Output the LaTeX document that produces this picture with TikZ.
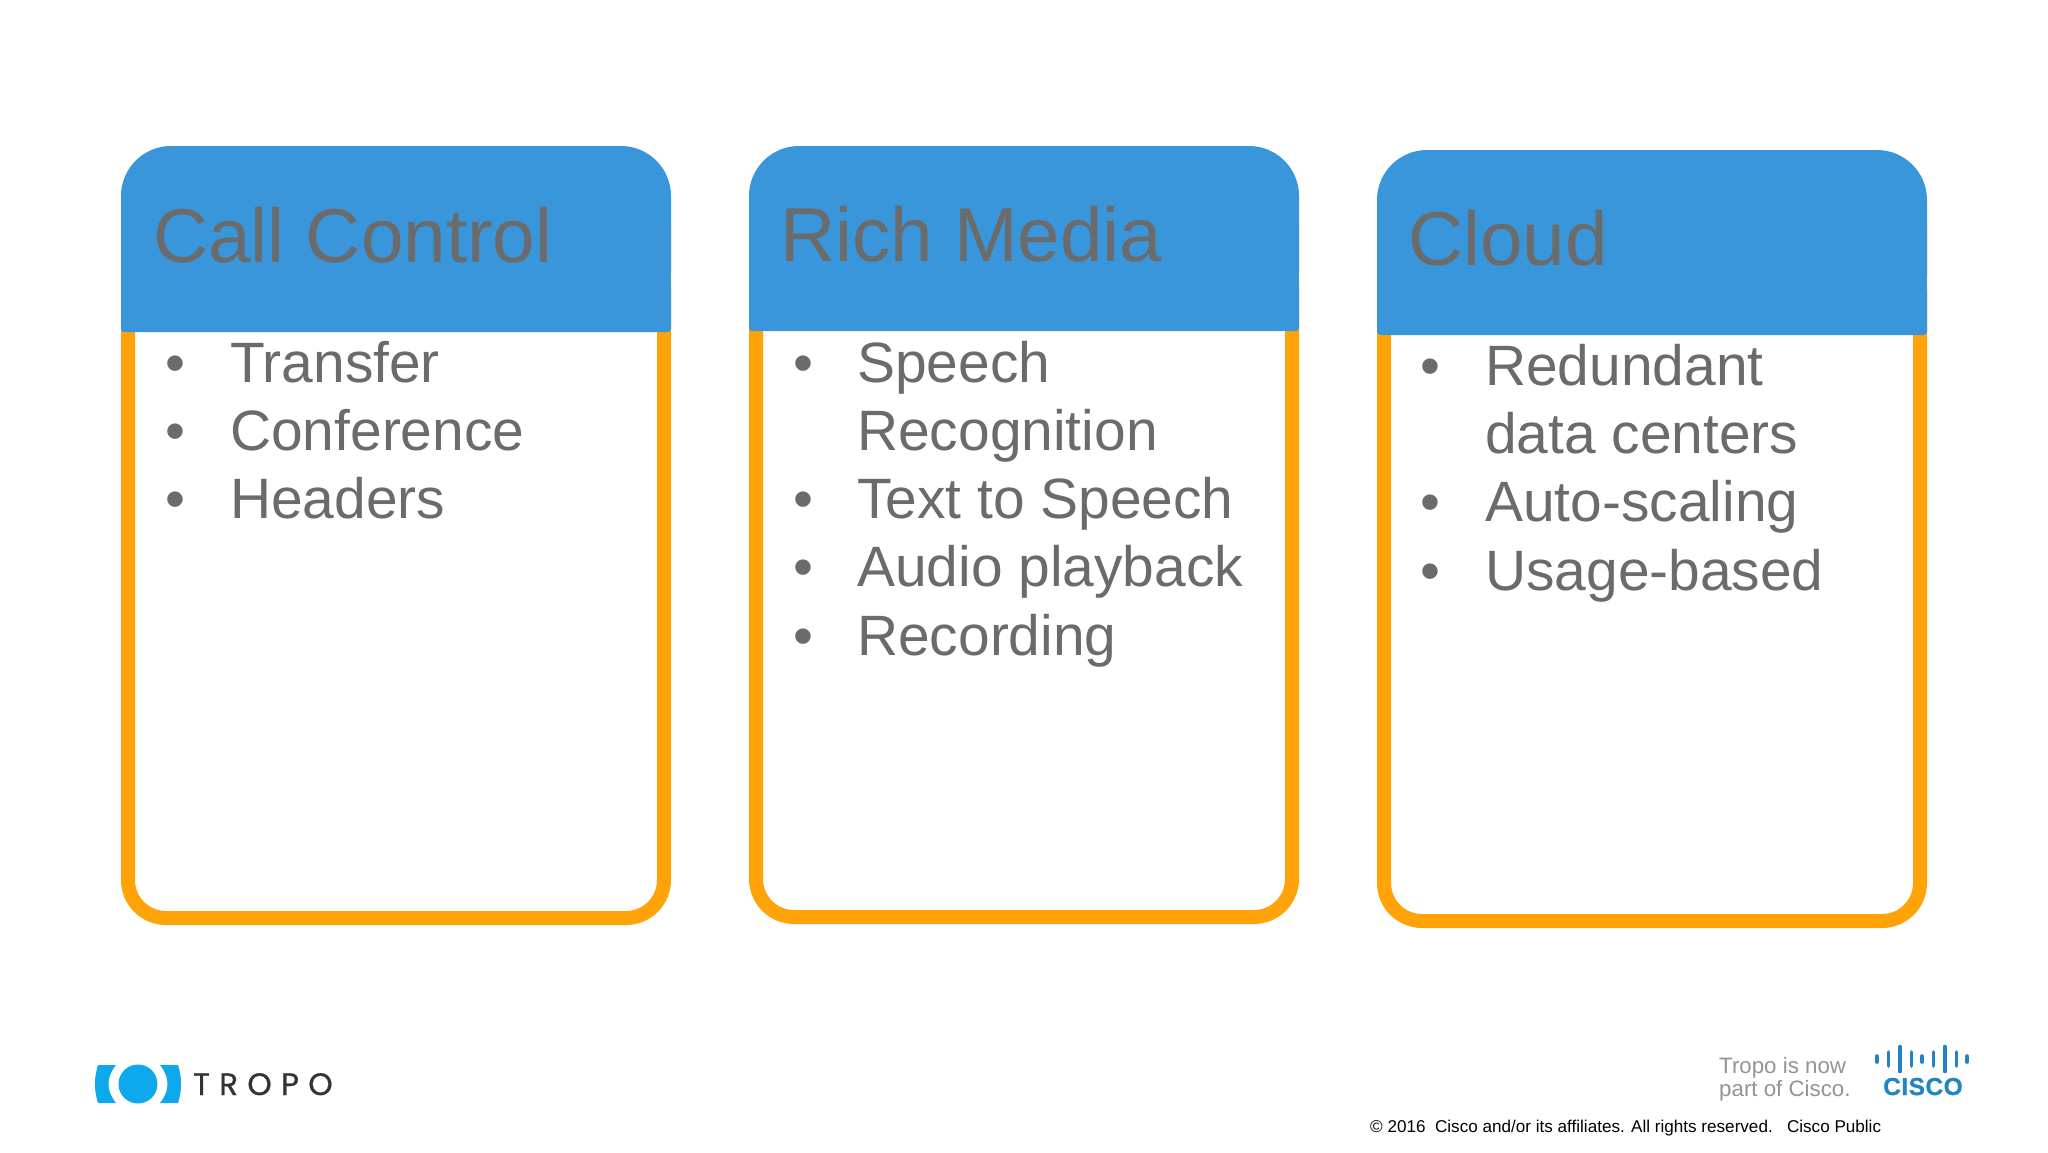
\documentclass[tikz,border=0pt]{standalone}
\usepackage{fontspec}
\setmainfont{Liberation Sans}
\newfontfamily\tropofont[LetterSpace=30,FakeBold=0.6]{Poppins}
\newfontfamily\ciscofont[LetterSpace=2,FakeBold=0.8]{Liberation Sans Bold}
\definecolor{headblue}{HTML}{3A96DB}
\definecolor{cardorange}{HTML}{FFA309}
\definecolor{textgray}{HTML}{6B6B6B}
\definecolor{tropoblue}{HTML}{0DA9EC}
\definecolor{ciscoblue}{HTML}{2384C4}
\tikzset{
  cardframe/.style={draw=cardorange,line width=14pt,fill=white,rounded corners=38pt},
  cardhead/.style={fill=headblue},
  cardtitle/.style={anchor=base west,inner sep=0pt,text=textgray,font=\fontsize{76.4}{76}\selectfont},
  carditem/.style={anchor=base west,inner sep=0pt,text=textgray,font=\fontsize{56.9}{68}\selectfont},
  cardbullet/.style={anchor=base,inner sep=0pt,text=textgray,font=\fontsize{56.9}{68}\selectfont},
  ciscobar/.style={line width=3.6pt,draw=ciscoblue,line cap=round},
}
% #1 left, #2 right, #3 top, #4 header bottom, #5 bottom
\newcommand{\cardshape}[5]{%
  \draw[cardframe] (#1+7,#3+40) rectangle (#2-7,#5-7);
  \fill[cardhead,rounded corners=50pt] (#1,#3) rectangle (#2,#4-10);
  \fill[cardhead] (#1,#3+50) rectangle (#2,#4-10);
  \fill[cardhead,rounded corners=3pt] (#1,#4-48) rectangle (#2,#4);
}
\begin{document}
\begin{tikzpicture}[x=1pt,y=-1pt]
\useasboundingbox[fill=white] (0,0) rectangle (2048,1152);
% Card 1
\cardshape{121}{671}{146}{332}{925}
\node[cardtitle] (t1) at (153,262) {Call Control};
\node[cardbullet] (b11) at (175,382) {•};
\node[carditem] (i11) at (230,382) {Transfer};
\node[cardbullet] (b12) at (175,450.3) {•};
\node[carditem] (i12) at (230,450.3) {Conference};
\node[cardbullet] (b13) at (175,518.6) {•};
\node[carditem] (i13) at (230,518.6) {Headers};
% Card 2
\cardshape{749}{1299}{146}{331}{924}
\node[cardtitle] (t2) at (780,261) {Rich Media};
\node[cardbullet] (b21) at (803,382) {•};
\node[carditem] (i21) at (857,382) {Speech};
\node[carditem] (i22) at (857,450.3) {Recognition};
\node[cardbullet] (b23) at (803,518.6) {•};
\node[carditem] (i23) at (857,518.6) {Text to Speech};
\node[cardbullet] (b24) at (803,586.9) {•};
\node[carditem] (i24) at (857,586.9) {Audio playback};
\node[cardbullet] (b25) at (803,655) {•};
\node[carditem] (i25) at (857,655) {Recording};
% Card 3
\cardshape{1377}{1927}{150}{335}{928}
\node[cardtitle] (t3) at (1408,265) {Cloud};
\node[cardbullet] (b31) at (1430,385) {•};
\node[carditem] (i31) at (1485,385) {Redundant};
\node[carditem] (i32) at (1485,453.3) {data centers};
\node[cardbullet] (b33) at (1430,521.6) {•};
\node[carditem] (i33) at (1485,521.6) {Auto-scaling};
\node[cardbullet] (b34) at (1430,590) {•};
\node[carditem] (i34) at (1485,590) {Usage-based};
% Tropo logo
\fill[tropoblue] (138,1084) circle[radius=19.5];
\fill[tropoblue] (98,1065) -- (116,1065) .. controls (106,1077) and (106,1091) .. (116,1103) -- (98,1103) .. controls (94,1091) and (94,1077) .. (98,1065) -- cycle;
\fill[tropoblue] (178,1065) -- (160,1065) .. controls (170,1077) and (170,1091) .. (160,1103) -- (178,1103) .. controls (182,1091) and (182,1077) .. (178,1065) -- cycle;
\node[anchor=base west,inner sep=0pt,text=black!80,font=\tropofont\fontsize{31}{31}\selectfont] (tropo) at (193,1095) {TROPO};
% Cisco block
\node[anchor=base west,inner sep=0pt,text=black!42,font=\fontsize{22.3}{22}\selectfont] (now1) at (1719,1073) {Tropo is now};
\node[anchor=base west,inner sep=0pt,text=black!42,font=\fontsize{22.3}{22}\selectfont] (now2) at (1719,1096) {part of Cisco.};
\foreach \bx/\bh in {1877/3,1888.5/7,1900/12.5,1911.5/7,1922/3,1933.5/7,1945/12.5,1956.5/7,1967/3}{
  \draw[ciscobar] (\bx,1059-\bh) -- (\bx,1059+\bh);
}
\node[anchor=base west,inner sep=0pt,text=ciscoblue,font=\ciscofont\fontsize{24.5}{25}\selectfont] (cisco) at (1883,1095) {CISCO};
\node[anchor=base west,inner sep=0pt,text=black,font=\fontsize{17.1}{18}\selectfont] (copy) at (1370,1132) {© 2016\ \ Cisco and/or its affiliates. All rights reserved.\ \ \ Cisco Public};
\end{tikzpicture}
\end{document}
